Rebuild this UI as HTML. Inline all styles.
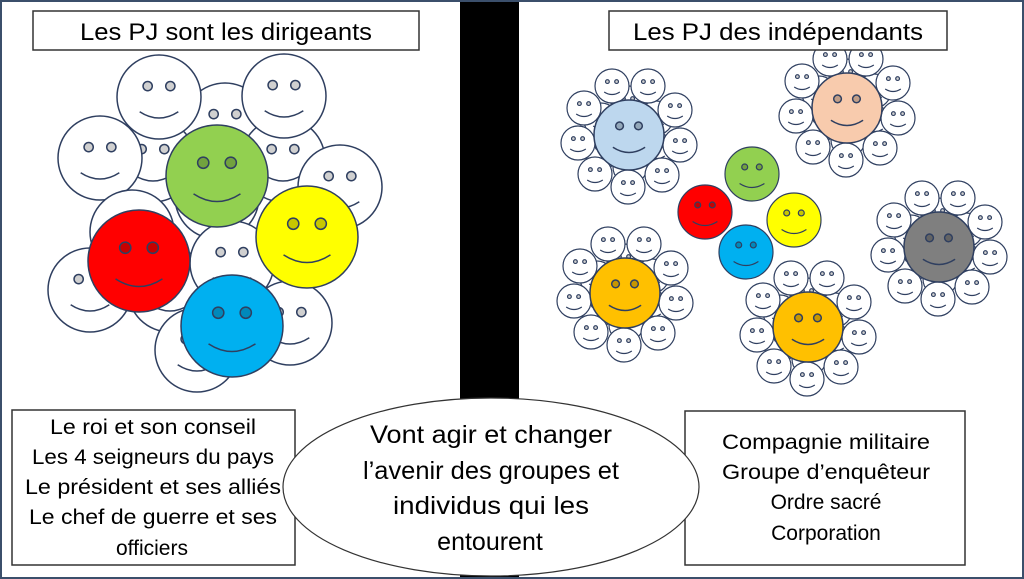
<!DOCTYPE html>
<html><head><meta charset="utf-8">
<style>
html,body{margin:0;padding:0;background:#fff;}
svg{display:block;}
text{font-family:"Liberation Sans",sans-serif;fill:#000;}
</style></head><body>
<svg id="s" width="1024" height="579" viewBox="0 0 1024 579" xmlns="http://www.w3.org/2000/svg">
<rect x="0" y="0" width="1024" height="579" fill="#fff"/>
<g id="faces"></g>
<rect x="460" y="0" width="59" height="579" fill="#000"/>
<rect x="1" y="1" width="1022" height="577" fill="none" stroke="#3b4f6b" stroke-width="2"/>
<rect x="33" y="11" width="386" height="39" fill="#fff" stroke="#333" stroke-width="1.5"/>
<text x="226" y="40" font-size="24" text-anchor="middle" textLength="292" lengthAdjust="spacingAndGlyphs">Les PJ sont les dirigeants</text>
<rect x="609" y="11" width="338" height="39" fill="#fff" stroke="#333" stroke-width="1.5"/>
<text x="778" y="40" font-size="24" text-anchor="middle" textLength="290" lengthAdjust="spacingAndGlyphs">Les PJ des indépendants</text>
<rect x="12" y="410" width="283" height="155" fill="#fff" stroke="#333" stroke-width="1.5"/>
<g font-size="21" text-anchor="middle">
<text x="153" y="434" textLength="206" lengthAdjust="spacingAndGlyphs">Le roi et son conseil</text>
<text x="153" y="464" textLength="242" lengthAdjust="spacingAndGlyphs">Les 4 seigneurs du pays</text>
<text x="153" y="494" textLength="256" lengthAdjust="spacingAndGlyphs">Le président et ses alliés</text>
<text x="153" y="524" textLength="248" lengthAdjust="spacingAndGlyphs">Le chef de guerre et ses</text>
<text x="152" y="555">officiers</text>
</g>
<rect x="685" y="411" width="280" height="154" fill="#fff" stroke="#333" stroke-width="1.5"/>
<g font-size="21" text-anchor="middle">
<text x="826" y="449" textLength="208" lengthAdjust="spacingAndGlyphs">Compagnie militaire</text>
<text x="826" y="479" textLength="208" lengthAdjust="spacingAndGlyphs">Groupe d’enquêteur</text>
<text x="826" y="509">Ordre sacré</text>
<text x="826" y="540">Corporation</text>
</g>
<ellipse cx="491" cy="487" rx="208" ry="89" fill="#fff" stroke="#333" stroke-width="1.2"/>
<g font-size="25" text-anchor="middle">
<text x="491" y="443" textLength="242" lengthAdjust="spacingAndGlyphs">Vont agir et changer</text>
<text x="491" y="479" textLength="256" lengthAdjust="spacingAndGlyphs">l’avenir des groupes et</text>
<text x="491" y="514" textLength="196" lengthAdjust="spacingAndGlyphs">individus qui les</text>
<text x="490" y="550">entourent</text>
</g>
</svg>
<script>
var g=document.getElementById('faces'),h='';
function face(x,y,r,c){
  var eye=c?'rgba(0,0,0,0.22)':'#d0d0d0';
  var fill=c||'#fff';
  h+='<g stroke="#2f3f60" stroke-width="'+(r>30?1.5:1.2)+'">';
  h+='<circle cx="'+x+'" cy="'+y+'" r="'+r+'" fill="'+fill+'"/>';
  h+='<circle cx="'+(x-0.27*r)+'" cy="'+(y-0.26*r)+'" r="'+(0.11*r)+'" fill="'+eye+'"/>';
  h+='<circle cx="'+(x+0.27*r)+'" cy="'+(y-0.26*r)+'" r="'+(0.11*r)+'" fill="'+eye+'"/>';
  h+='<path d="M'+(x-0.46*r)+' '+(y+0.35*r)+' Q'+x+' '+(y+0.65*r)+' '+(x+0.46*r)+' '+(y+0.35*r)+'" fill="none"/>';
  h+='</g>';
}
[[225,125],[153,160],[217,197],[170,290],[283,160],[159,97],[284,96],[100,158],[340,187],[132,232],[90,290],[232,263],[290,323],[197,350]].forEach(function(p){face(p[0],p[1],42);});
face(217,176,51,'#92d050');face(307,237,51,'#ffff00');face(139,261,51,'#ff0000');face(232,326,51,'#00b0f0');
function cluster(cx,cy,c){
  var i,a;
  for(i=0;i<6;i++){a=i*Math.PI/3+0.5;face(Math.round(cx+32*Math.cos(a)),Math.round(cy+32*Math.sin(a)),17);}
  for(i=0;i<9;i++){a=i*2*Math.PI/9-1.9;face(Math.round(cx+52*Math.cos(a)),Math.round(cy+52*Math.sin(a)),17);}
  face(cx,cy,35,c);
}
cluster(629,135,'#bdd7ee');cluster(847,108,'#f8cbad');cluster(939,247,'#7f7f7f');
cluster(625,293,'#ffc000');cluster(808,327,'#ffc000');
face(752,174,27,'#92d050');face(705,212,27,'#ff0000');face(794,220,27,'#ffff00');face(746,252,27,'#00b0f0');
g.innerHTML=h;
</script>
</body></html>
